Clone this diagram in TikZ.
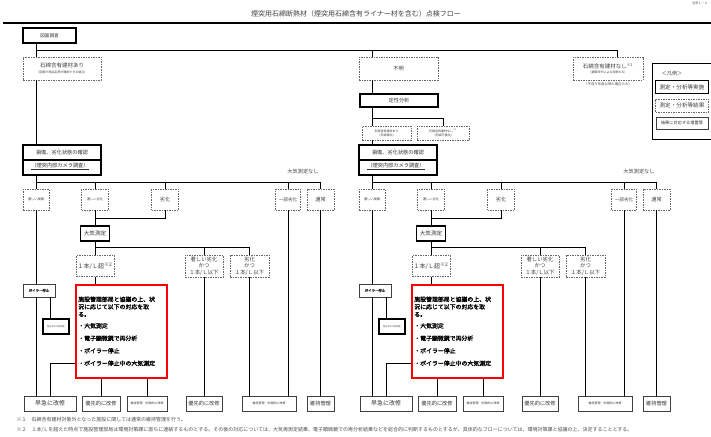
\documentclass[tikz,border=0pt]{standalone}
\usepackage{fontspec}
\setmainfont{Noto Sans CJK JP}[AutoFakeBold=1.5]
\usetikzlibrary{positioning}
\newcommand\szA{\fontsize{3}{3.8}\selectfont}
\newcommand\szB{\fontsize{5.2}{6}\selectfont}
\newcommand\szC{\fontsize{6}{7}\selectfont}
\tikzset{
  kekka/.style={draw=black!60, dash pattern=on 1.5pt off 1pt, line width=0.6pt, fill=white, inner sep=1pt, align=center, text=black!75},
  jisshi/.style={draw, line width=1.6pt, fill=white, inner sep=1pt, align=center, text=black!80},
  sochi/.style={draw=black!75, line width=0.7pt, fill=white, inner sep=1pt, align=center, text=black!80},
  taiou/.style={draw=red, line width=1.6pt, fill=white, inner sep=1.5pt, align=left},
  conn/.style={line width=0.8pt}
}
\begin{document}
\begin{tikzpicture}[x=1pt,y=-1pt]
\useasboundingbox (0,0) rectangle (711,436);
\node[text=black!75, font=\fontsize{7}{8}\selectfont] (title) at (356,14) {煙突用石綿断熱材（煙突用石綿含有ライナー材を含む）点検フロー};
\node[anchor=east, text=black!70, font=\fontsize{3}{3}\selectfont] (bettei) at (711,3) {別添１－２};
\draw[line width=2pt] (3,23) -- (711,23);

\node[jisshi, minimum width=53, minimum height=15, font=\fontsize{4.6}{5}\selectfont] (zumen) at (49.5,35.5) {図面調査};
\node[kekka, minimum width=78, minimum height=23, font=\fontsize{5.5}{6.5}\selectfont] (ari) at (62,68.5) {石綿含有建材あり\\[-1pt]{\fontsize{3}{3.5}\selectfont（図面で商品名等が確認できる場合）}};
\node[kekka, minimum width=79, minimum height=23, font=\szB] (fumei) at (398.5,68.5) {不明};
\node[jisshi, minimum width=78, minimum height=13, font=\szB] (teisei) at (399,100.5) {定性分析};
\node[kekka, minimum width=49, minimum height=14, font=\fontsize{3}{4}\selectfont] (kenshutsu) at (386.5,133) {石綿含有建材あり\\（石綿検出）};
\node[kekka, minimum width=52, minimum height=14, font=\fontsize{3}{4}\selectfont] (fukenshutsu) at (443,133) {石綿含有建材なし\textsuperscript{※1}\\（石綿不検出）};
\node[kekka, minimum width=70, minimum height=23, font=\fontsize{5.5}{6.5}\selectfont] (nashi) at (608,68.5) {石綿含有建材なし\textsuperscript{※1}\\[-1pt]{\fontsize{3}{3.5}\selectfont（建築年代による判断のみ）}};
\node[text=black!70, font=\fontsize{3.4}{4}\selectfont] (heisei) at (608,84) {（平成９年度以降の場合のみ）};

\coordinate (lx) at (36,50);
\coordinate (mx) at (372,50);
\coordinate (rx) at (617,50);
\coordinate (bx) at (443,118);
\draw[conn] (zumen.south -| lx) -- (lx) -- (rx) -- (nashi.north -| rx);
\draw[conn] (lx) -- (ari.north -| lx);
\draw[conn] (mx) -- (fumei.north -| mx) (fumei.south -| mx) -- (teisei.north -| mx);
\draw[conn] (teisei.south -| mx) -- (kenshutsu.north -| mx);
\draw[conn] (bx -| mx) -- (bx) -- (fukenshutsu.north);

\node[draw, line width=1pt, minimum width=62, minimum height=76, anchor=north west] (hanrei) at (652,63) {};
\node[text=black!75, font=\szB] (hanreiT) at (672,74) {＜凡例＞};
\node[jisshi, minimum width=53, minimum height=13, font=\fontsize{5.6}{6}\selectfont] (hanrei1) at (682,87) {測定・分析等実施};
\node[kekka, minimum width=53, minimum height=13, font=\fontsize{5.6}{6}\selectfont] (hanrei2) at (682,105.5) {測定・分析等結果};
\node[sochi, minimum width=52, minimum height=12, font=\fontsize{4.2}{5}\selectfont] (hanrei3) at (682,123) {結果に対応する措置等};

\foreach \h/\ox in {L/0,R/336}{
\begin{scope}[xshift=\ox]
\node[jisshi, minimum width=78, minimum height=30] (\h-dmg) at (62,160) {};
\draw[line width=1.2pt] (\h-dmg.west) -- (\h-dmg.east);
\node[text=black!80, font=\szB] (\h-dmgA) at (62,152.5) {損傷、劣化状態の確認};
\node[text=black!80, font=\szB] (\h-dmgB) at (60,166.5) {\underline{（煙突内部カメラ調査）}};
\node[text=black!75, font=\szB] (\h-nashi) at (303,172) {大気測定なし};

\coordinate (\h-a) at (36,182);
\node[kekka, minimum width=26, minimum height=21, font=\fontsize{3.2}{4}\selectfont] (\h-son) at (36,199.5) {著しい損傷};
\node[kekka, minimum width=27, minimum height=21, font=\fontsize{3.2}{4}\selectfont] (\h-rekH) at (95,199.5) {著しい劣化};
\node[kekka, minimum width=27, minimum height=21, font=\szB] (\h-rek) at (165,199.5) {劣化};
\node[kekka, minimum width=25, minimum height=21, font=\fontsize{4.6}{5}\selectfont] (\h-ichi) at (288,199.5) {一部劣化};
\node[kekka, minimum width=27, minimum height=21, font=\szB] (\h-tsu) at (320.5,199.5) {通常};
\draw[conn] (\h-dmg.south -| \h-son) -- (\h-son.north);
\draw[conn] (\h-a) -- (\h-tsu.north |- \h-a);
\foreach \n in {rekH,rek,ichi,tsu}
  \draw[conn] (\h-\n.north |- \h-a) -- (\h-\n.north);

\coordinate (\h-j) at (130,218);
\draw[conn] (\h-rekH.south) -- (\h-rekH.south |- \h-j) -- (\h-rek.south |- \h-j) -- (\h-rek.south);
\node[jisshi, minimum width=29, minimum height=15, font=\fontsize{5.6}{6}\selectfont] (\h-taiki) at (95,233.5) {大気測定};
\draw[conn] (\h-rekH.south |- \h-j) -- (\h-taiki.north);

\coordinate (\h-k) at (170,247);
\node[kekka, minimum width=38, minimum height=21, font=\szC] (\h-cho) at (95,266) {１本/Ｌ超\textsuperscript{※2}};
\node[kekka, minimum width=38, minimum height=22, font=\fontsize{5.4}{6.4}\selectfont] (\h-ikaH) at (204,266) {著しい劣化\\かつ\\１本/Ｌ以下};
\node[kekka, minimum width=39, minimum height=22, font=\fontsize{5.4}{6.4}\selectfont] (\h-ika) at (249.5,266) {劣化\\かつ\\１本/Ｌ以下};
\draw[conn] (\h-taiki.south) -- (\h-taiki.south |- \h-k) -- (\h-ika.north |- \h-k) -- (\h-ika.north);
\draw[conn] (\h-ikaH.north |- \h-k) -- (\h-ikaH.north);
\draw[conn] (\h-taiki.south |- \h-k) -- (\h-cho.north);

\node[taiou, minimum width=91, minimum height=93, text width=86, anchor=north west, font=\bfseries\fontsize{5.9}{7.5}\selectfont] (\h-taio) at (75,284)
  {施設管理部局と協議の上、状\\況に応じて以下の対応を取\\る。\\[4pt]・大気測定\\[5pt]・電子顕微鏡で再分析\\[5pt]・ボイラー停止\\[5pt]・ボイラー停止中の大気測定\\[6pt]};
\draw[conn] (\h-cho.south) -- (\h-taio.north -| \h-cho);

\node[sochi, minimum width=32, minimum height=13, font=\bfseries\fontsize{3.4}{4}\selectfont] (\h-boiler) at (39,290.5) {ボイラー停止};
\node[jisshi, minimum width=26, minimum height=15, font=\fontsize{2.2}{2.6}\selectfont] (\h-teishi) at (56,326.5) {停止中の大気測定};
\coordinate (\h-x) at (50,363);

\node[sochi, minimum width=52, minimum height=15, font=\szC] (\h-kyu) at (50,403.5) {早急に改修};
\node[sochi, minimum width=38, minimum height=15, font=\szB] (\h-yu1) at (101,403.5) {優先的に改修};
\node[sochi, minimum width=40, minimum height=15, font=\fontsize{3}{3.5}\selectfont] (\h-iji1) at (147,403.5) {維持管理・計画的に改修};
\node[sochi, minimum width=36, minimum height=15, font=\szB] (\h-yu2) at (204,403.5) {優先的に改修};
\node[sochi, minimum width=54, minimum height=15, font=\fontsize{3}{3.5}\selectfont] (\h-iji2) at (269,403.5) {維持管理・計画的に改修};
\node[sochi, minimum width=27, minimum height=15, font=\szB] (\h-iji) at (320.5,403.5) {維持管理};

\draw[conn] (\h-son.south) -- (\h-boiler.north -| \h-son) (\h-boiler.south -| \h-son) -- (\h-kyu.north -| \h-son);
\draw[conn] (\h-boiler.south -| \h-x) -- (\h-teishi.north -| \h-x);
\draw[conn] (\h-taio.west |- \h-x) -- (\h-x) -- (\h-kyu.north -| \h-x);
\draw[conn] (\h-taio.south -| \h-yu1) -- (\h-yu1.north);
\draw[conn] (\h-taio.south -| \h-iji1) -- (\h-iji1.north);
\draw[conn] (\h-ikaH.south) -- (\h-yu2.north);
\draw[conn] (\h-ika.south) -- (\h-ika.south |- \h-iji2.north);
\draw[conn] (\h-ichi.south) -- (\h-ichi.south |- \h-iji2.north);
\draw[conn] (\h-tsu.south) -- (\h-iji.north);
\end{scope}
}
\draw[conn] (ari.south -| lx) -- (L-dmg.north -| lx);
\draw[conn] (kenshutsu.south -| mx) -- (R-dmg.north -| mx);

\node[anchor=west, text=black!70, font=\fontsize{5}{5.5}\selectfont] (chu1) at (13,420) {※１　石綿含有建材対象外となった施設に関しては通常の維持管理を行う。};
\node[anchor=west, text=black!70, font=\fontsize{5}{5.5}\selectfont] (chu2) at (13,430) {※２　１本/Ｌを超えた時点で施設管理部局は環境対策課に直ちに連絡するものとする。その後の対応については、大気再測定結果、電子顕微鏡での再分析結果などを総合的に判断するものとするが、具体的なフローについては、環境対策課と協議の上、決定することとする。};
\end{tikzpicture}
\end{document}
